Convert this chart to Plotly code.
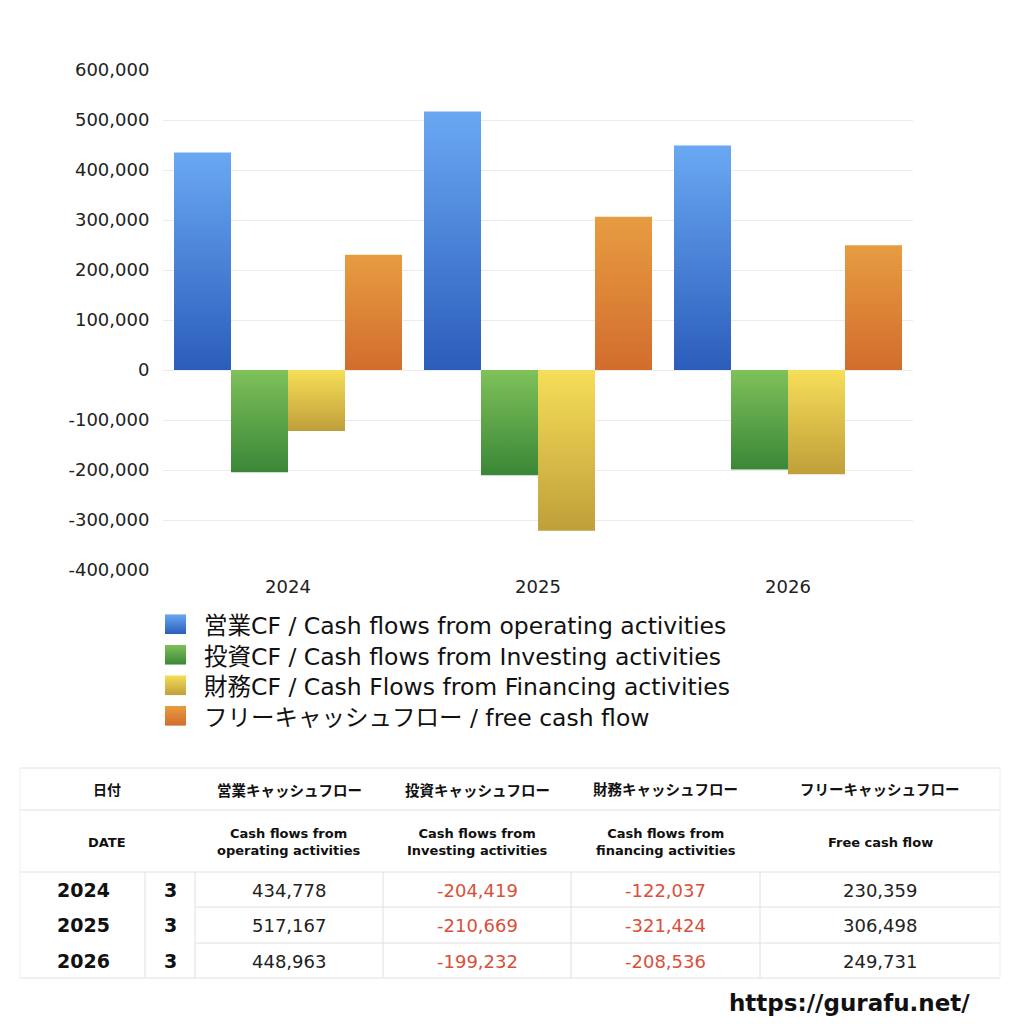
import base64
import plotly.graph_objects as go

# data
years = ["2024", "2025", "2026"]
months = ["3", "3", "3"]
operating_cf = [434778, 517167, 448963]
investing_cf = [-204419, -210669, -199232]
financing_cf = [-122037, -321424, -208536]
free_cf = [230359, 306498, 249731]

y_ticks = [-400000, -300000, -200000, -100000, 0, 100000, 200000, 300000, 400000, 500000, 600000]
y_ticktext = [f"{v:,}" for v in y_ticks]

series_names = [
    "営業CF / Cash flows from operating activities",
    "投資CF / Cash flows from Investing activities",
    "財務CF / Cash Flows from Financing activities",
    "フリーキャッシュフロー / free cash flow",
]
header_ja = ["営業キャッシュフロー", "投資キャッシュフロー", "財務キャッシュフロー", "フリーキャッシュフロー"]
header_en = [
    "Cash flows from<br>operating activities",
    "Cash flows from<br>Investing activities",
    "Cash flows from<br>financing activities",
    "Free cash flow",
]

# (light top, dark bottom) gradient per series
gradients = [
    ("#6aa8f3", "#2b5dbb"),
    ("#7fc15a", "#3a8737"),
    ("#f6de58", "#bf9f3a"),
    ("#e79c41", "#d26d2d"),
]

FONT = "DejaVu Sans, Noto Sans CJK JP, sans-serif"
W = H = 1024


def px(x):
    return x / W


def py(y):
    return 1 - y / H


all_series = [operating_cf, investing_cf, financing_cf, free_cf]
bar_w = 0.228

fig = go.Figure()
for i, (name, values) in enumerate(zip(series_names, all_series)):
    top, bottom = gradients[i]
    for j, v in enumerate(values):
        x0 = j + (i - 1.5) * bar_w - bar_w / 2
        x1 = x0 + bar_w
        fig.add_trace(go.Scatter(
            x=[x0, x1, x1, x0, x0],
            y=[0, 0, v, v, 0],
            mode="none",
            fill="toself",
            fillgradient=dict(type="vertical", colorscale=[[0, bottom], [1, top]]),
            name=name,
            showlegend=False,
            hoveron="fills",
            text=f"{years[j]}: {v:,}",
            hoverinfo="name+text",
        ))

fig.update_xaxes(
    range=[-0.5, 2.5],
    tickvals=[0, 1, 2],
    ticktext=years,
    showgrid=False,
    zeroline=False,
    ticks="outside",
    ticklen=0,
    tickcolor="rgba(0,0,0,0)",
    tickfont=dict(size=18, color="#222"),
    domain=[px(163), px(913)],
    automargin=False,
    fixedrange=True,
)
fig.update_yaxes(
    range=[-400000, 600000],
    tickvals=y_ticks,
    ticktext=y_ticktext,
    showgrid=True,
    gridcolor="#ebebeb",
    gridwidth=1,
    zeroline=True,
    zerolinecolor="#ebebeb",
    zerolinewidth=1,
    ticks="outside",
    ticklen=9,
    tickcolor="rgba(0,0,0,0)",
    tickfont=dict(size=18, color="#222"),
    domain=[py(570), py(70)],
    automargin=False,
    fixedrange=True,
)

annotations = []
images = []

# legend drawn by hand: swatches as small gradient svgs, text as one block
leg_size = 23.5
leg_step = leg_size * 1.3
leg_first = 670 - 1.5 * leg_step
for i in range(len(series_names)):
    cy = leg_first + leg_step * i
    top, bottom = gradients[i]
    svg = (
        '<svg xmlns="http://www.w3.org/2000/svg" width="21" height="20">'
        '<defs><linearGradient id="g" x1="0" y1="0" x2="0" y2="1">'
        f'<stop offset="0" stop-color="{top}"/><stop offset="1" stop-color="{bottom}"/>'
        '</linearGradient></defs><rect width="21" height="20" fill="url(#g)"/></svg>'
    )
    images.append(dict(
        source="data:image/svg+xml;base64," + base64.b64encode(svg.encode()).decode(),
        xref="paper", yref="paper",
        x=px(165), y=py(cy - 10), sizex=21 / W, sizey=20 / H,
        xanchor="left", yanchor="top", sizing="stretch", layer="above",
    ))
annotations.append(dict(
    text="<br>".join(series_names), x=px(202), y=py(leg_first - leg_step / 2 + 1),
    xref="paper", yref="paper", xanchor="left", yanchor="top", align="left",
    showarrow=False, font=dict(size=leg_size, color="#111", family=FONT),
))

# table
col_x = [20, 145, 195, 383, 571, 760, 1000]
line_col = "#e0e0e0"
shapes = []


def hline(y, x0, x1, color=line_col):
    shapes.append(dict(type="line", xref="paper", yref="paper",
                       x0=px(x0), x1=px(x1), y0=py(y), y1=py(y),
                       line=dict(color=color, width=1)))


def vline(x, y0, y1, color=line_col):
    shapes.append(dict(type="line", xref="paper", yref="paper",
                       x0=px(x), x1=px(x), y0=py(y0), y1=py(y1),
                       line=dict(color=color, width=1)))


for y in [768, 810, 872, 978]:
    hline(y, 20, 1000)
for y in [907, 943]:
    hline(y, 195, 1000)
for x in col_x[1:-1]:
    vline(x, 872, 978)
vline(20, 768, 978, "#f0f0f0")
vline(1000, 768, 978, "#f0f0f0")


def cell(text, x, y, size, color="#111", bold=False):
    annotations.append(dict(
        text=f"<b>{text}</b>" if bold else text,
        x=px(x), y=py(y), xref="paper", yref="paper",
        xanchor="center", yanchor="middle", showarrow=False,
        font=dict(size=size, color=color, family=FONT),
    ))


cell("日付", 107, 790, 14, bold=True)
cell("DATE", 107, 842, 13, bold=True)
for k in range(4):
    cx = (col_x[k + 2] + col_x[k + 3]) / 2
    cell(header_ja[k], cx, 790, 14.5, bold=True)
    cell(header_en[k], cx, 842, 13, bold=True)

row_mid = [890, 925, 961]
for j in range(len(years)):
    cell(years[j], 83, row_mid[j], 19, bold=True)
    cell(months[j], 170, row_mid[j], 19, bold=True)
    for k, values in enumerate(all_series):
        cx = (col_x[k + 2] + col_x[k + 3]) / 2
        v = values[j]
        cell(f"{v:,}", cx, row_mid[j], 18, color="#d9503a" if v < 0 else "#222")

annotations.append(dict(
    text="<b>https://gurafu.net/</b>", x=px(972), y=py(1003),
    xref="paper", yref="paper", xanchor="right", yanchor="middle",
    showarrow=False, font=dict(size=23, color="#111", family=FONT),
))

fig.update_layout(
    width=W,
    height=H,
    margin=dict(l=0, r=0, t=0, b=0, autoexpand=False),
    paper_bgcolor="white",
    plot_bgcolor="white",
    font=dict(family=FONT, color="#222"),
    showlegend=False,
    annotations=annotations,
    shapes=shapes,
    images=images,
)

fig.write_html(
    "out.html",
    config={"displayModeBar": False},
    post_script="document.body.style.margin='0';",
)
